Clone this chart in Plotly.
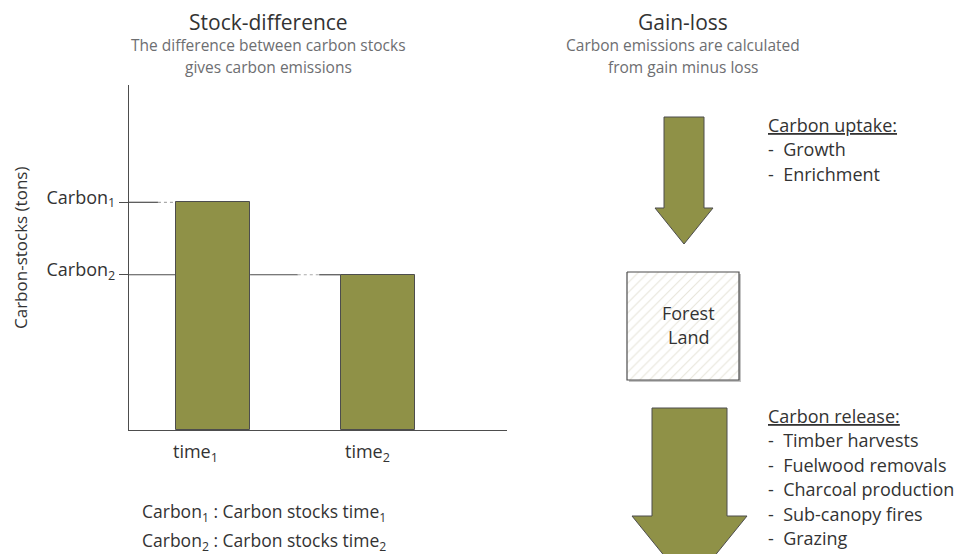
import plotly.graph_objects as go

# ---------------- data ----------------
time_labels = ["time<sub>1</sub>", "time<sub>2</sub>"]
time_pos = [1, 2]
carbon_stocks = [66, 45]
carbon_labels = ["Carbon<sub>1</sub>", "Carbon<sub>2</sub>"]
legend_lines = ["Carbon<sub>1</sub> : Carbon stocks time<sub>1</sub>",
                "Carbon<sub>2</sub> : Carbon stocks time<sub>2</sub>"]
uptake_title = "Carbon uptake:"
uptake_items = ["Growth", "Enrichment"]
release_title = "Carbon release:"
release_items = ["Timber harvests", "Fuelwood removals", "Charcoal production",
                 "Sub-canopy fires", "Grazing"]

W, H = 958, 554
FONT = "Open Sans"
OLIVE = "#8f9147"
EDGE = "#4d4d4d"
DARK = "#333333"
GREY = "#6d6e71"
BAR_W = 0.45

def px(x):
    return x / W

def py(y):
    return 1 - y / H

fig = go.Figure()

# bars
fig.add_trace(go.Bar(x=time_pos, y=carbon_stocks, width=BAR_W,
                     marker=dict(color=OLIVE, line=dict(color=EDGE, width=1)),
                     xaxis="x", yaxis="y", showlegend=False, hoverinfo="skip"))

# reference lines from axis to bars
x0 = 0.489
shapes = []
b1_left = time_pos[0] - BAR_W / 2
b1_right = time_pos[0] + BAR_W / 2
b2_left = time_pos[1] - BAR_W / 2
LN = dict(color=EDGE, width=1.2)
DT = dict(color="#aaaaaa", width=1.2, dash="dot")
# Carbon1
shapes.append(dict(type="line", xref="x", yref="y", x0=x0, x1=b1_left - 0.11,
                   y0=carbon_stocks[0], y1=carbon_stocks[0], line=LN, layer="below"))
shapes.append(dict(type="line", xref="x", yref="y", x0=b1_left - 0.11, x1=b1_left,
                   y0=carbon_stocks[0], y1=carbon_stocks[0], line=DT, layer="below"))
# Carbon2
shapes.append(dict(type="line", xref="x", yref="y", x0=x0, x1=b1_left,
                   y0=carbon_stocks[1], y1=carbon_stocks[1], line=LN, layer="below"))
shapes.append(dict(type="line", xref="x", yref="y", x0=b1_right, x1=b1_right + 0.29,
                   y0=carbon_stocks[1], y1=carbon_stocks[1], line=LN, layer="below"))
shapes.append(dict(type="line", xref="x", yref="y", x0=b1_right + 0.29, x1=b1_right + 0.42,
                   y0=carbon_stocks[1], y1=carbon_stocks[1], line=DT, layer="below"))
shapes.append(dict(type="line", xref="x", yref="y", x0=b1_right + 0.42, x1=b2_left,
                   y0=carbon_stocks[1], y1=carbon_stocks[1], line=LN, layer="below"))

# arrows (pixel space on overlay axes)
shapes.append(dict(type="path", xref="x2", yref="y2",
                   path="M664,117 L704,117 L704,208 L713,208 L684,244 L655,208 L664,208 Z",
                   fillcolor=OLIVE, line=dict(color=EDGE, width=1)))
shapes.append(dict(type="path", xref="x2", yref="y2",
                   path="M652,408 L727,408 L727,516 L747,516 L689.5,587 L632,516 L652,516 Z",
                   fillcolor=OLIVE, line=dict(color=EDGE, width=1)))
# box shadow
shapes.append(dict(type="rect", xref="x2", yref="y2", x0=629, x1=741, y0=274, y1=382,
                   fillcolor="#c4c4c4", line=dict(width=0), layer="below"))

# forest land hatched box
fig.add_trace(go.Scatter(x=[627, 739, 739, 627, 627], y=[272, 272, 380, 380, 272],
                         mode="lines", fill="toself", fillcolor="white",
                         fillpattern=dict(shape="/", fgcolor="#cfcab4", bgcolor="white",
                                          size=7, solidity=0.15),
                         line=dict(color=EDGE, width=1.2),
                         xaxis="x2", yaxis="y2", showlegend=False, hoverinfo="skip"))

ann = []
def text(x, y, t, size, color=DARK, xanchor="center", **kw):
    ann.append(dict(x=px(x), y=py(y), xref="paper", yref="paper", text=t, showarrow=False,
                    xanchor=xanchor, yanchor="middle", font=dict(family=FONT, size=size, color=color), **kw))

text(268, 22, "Stock-difference", 21)
text(268, 45, "The difference between carbon stocks", 15.5, GREY)
text(268, 67, "gives carbon emissions", 15.5, GREY)
text(683, 22, "Gain-loss", 21)
text(683, 45, "Carbon emissions are calculated", 15.5, GREY)
text(683, 67, "from gain minus loss", 15.5, GREY)

text(21, 248, "Carbon-stocks (tons)", 17, textangle=-90)

time_shift = [-18, -10]
for i, t in enumerate(time_labels):
    ann.append(dict(x=time_pos[i], y=py(452), xref="x", yref="paper", text=t, showarrow=False,
                    xshift=time_shift[i], yanchor="middle", font=dict(family=FONT, size=18, color=DARK)))

for i, t in enumerate(legend_lines):
    text(140, 512 + 29 * i, t, 17.5, xanchor="left")

text(688, 313, "Forest", 18)
text(688, 337, "Land", 18)

text(766, 125, "<u>" + uptake_title + "</u>", 18, xanchor="left")
for i, t in enumerate(uptake_items):
    text(766, 149 + 24.5 * i, "-  " + t, 18, xanchor="left")
text(766, 416, "<u>" + release_title + "</u>", 18, xanchor="left")
for i, t in enumerate(release_items):
    text(766, 440 + 24.5 * i, "-  " + t, 18, xanchor="left")

fig.update_layout(
    width=W, height=H, margin=dict(l=0, r=0, t=0, b=0),
    paper_bgcolor="white", plot_bgcolor="rgba(0,0,0,0)",
    font=dict(family=FONT, color=DARK),
    shapes=shapes, annotations=ann, bargap=0,
    xaxis=dict(domain=[px(129), px(507)], range=[x0, x0 + 378 / 164.5],
               showline=True, linecolor=EDGE, linewidth=1.2, showgrid=False, zeroline=False,
               showticklabels=False, ticks="", anchor="y", fixedrange=True),
    yaxis=dict(domain=[py(430), py(85)], range=[0, 100],
               showline=True, linecolor=EDGE, linewidth=1.2, showgrid=False, zeroline=False,
               tickvals=carbon_stocks, ticktext=carbon_labels, ticks="outside", ticklen=9,
               tickcolor=EDGE, tickwidth=1.2, tickfont=dict(family=FONT, size=18, color=DARK),
               ticklabelshift=-5, anchor="x", fixedrange=True),
    xaxis2=dict(domain=[0, 1], range=[0, W], visible=False, anchor="y2", fixedrange=True),
    yaxis2=dict(domain=[0, 1], range=[H, 0], visible=False, anchor="x2", fixedrange=True),
)

fig.write_html("out.html", config={"displayModeBar": False},
               post_script="document.body.style.margin='0';document.body.style.overflow='hidden';")
